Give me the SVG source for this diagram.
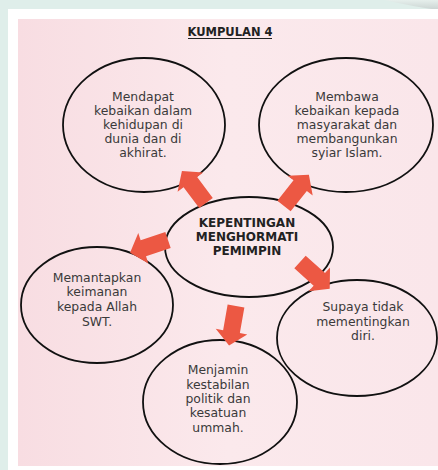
<svg xmlns="http://www.w3.org/2000/svg" width="438" height="470" viewBox="0 0 438 470">
<defs>
<linearGradient id="pink" x1="0" y1="0" x2="1" y2="0">
<stop offset="0" stop-color="#f8dde2"/>
<stop offset="0.5" stop-color="#fbe9ec"/>
<stop offset="1" stop-color="#fae6ea"/>
</linearGradient>
<linearGradient id="curl" x1="0" y1="0" x2="0" y2="1">
<stop offset="0" stop-color="#e6efec"/>
<stop offset="1" stop-color="#c9d3d1"/>
</linearGradient>
<path id="arr" d="M0,-8.5 L26,-8.5 L26,-16 L40,0 L26,16 L26,8.5 L0,8.5 Z"/>
</defs>
<style>
.node ellipse{fill:none;stroke:#111;stroke-width:1.8}
.t{font-family:"DejaVu Sans","Liberation Sans",sans-serif;font-size:12.4px;fill:#3a3a3a;text-anchor:middle}
.b{font-family:"DejaVu Sans","Liberation Sans",sans-serif;font-size:12px;font-weight:bold;fill:#222;text-anchor:middle}
.arrow{fill:#ec5843}
</style>
<rect width="438" height="470" fill="#dfeeea"/>
<path d="M385,0 L438,0 L438,10 Q410,6 385,0 Z" fill="url(#curl)"/>
<rect x="8" y="9" width="430" height="461" fill="#ffffff"/>
<rect x="18" y="19" width="420" height="447" fill="url(#pink)"/>
<g id="title">
<text class="b" x="230" y="36" style="font-size:11.5px">KUMPULAN 4</text>
<line x1="188" y1="38.5" x2="272" y2="38.5" stroke="#222" stroke-width="1"/>
</g>
<g id="n1" class="node">
<ellipse cx="144" cy="125" rx="81" ry="67"/>
<text class="t" x="143" y="101">Mendapat</text>
<text class="t" x="143" y="115">kebaikan dalam</text>
<text class="t" x="143" y="129">kehidupan di</text>
<text class="t" x="143" y="143">dunia dan di</text>
<text class="t" x="143" y="157">akhirat.</text>
</g>
<g id="n2" class="node">
<ellipse cx="346" cy="125" rx="87" ry="67"/>
<text class="t" x="347" y="101">Membawa</text>
<text class="t" x="347" y="115">kebaikan kepada</text>
<text class="t" x="347" y="129">masyarakat dan</text>
<text class="t" x="347" y="143">membangunkan</text>
<text class="t" x="347" y="157">syiar Islam.</text>
</g>
<g id="center" class="node">
<ellipse cx="249" cy="247" rx="84" ry="50"/>
<text class="b" x="247" y="227">KEPENTINGAN</text>
<text class="b" x="247" y="241">MENGHORMATI</text>
<text class="b" x="247" y="255">PEMIMPIN</text>
</g>
<g id="n3" class="node">
<ellipse cx="97" cy="305" rx="76" ry="58"/>
<text class="t" x="97" y="282">Memantapkan</text>
<text class="t" x="97" y="296">keimanan</text>
<text class="t" x="97" y="311">kepada Allah</text>
<text class="t" x="97" y="326">SWT.</text>
</g>
<g id="n4" class="node">
<ellipse cx="357" cy="338" rx="80" ry="58"/>
<text class="t" x="363" y="311">Supaya tidak</text>
<text class="t" x="363" y="326">mementingkan</text>
<text class="t" x="363" y="340">diri.</text>
</g>
<g id="n5" class="node">
<ellipse cx="220" cy="402" rx="77" ry="62"/>
<text class="t" x="218" y="374">Menjamin</text>
<text class="t" x="218" y="389">kestabilan</text>
<text class="t" x="218" y="403">politik dan</text>
<text class="t" x="218" y="417">kesatuan</text>
<text class="t" x="218" y="432">ummah.</text>
</g>
<g id="connectors" class="arrow">
<use href="#arr" transform="translate(206,203) rotate(-127)"/>
<use href="#arr" transform="translate(284,206) rotate(-51.5)"/>
<use href="#arr" transform="translate(168,240) rotate(161.6)"/>
<use href="#arr" transform="translate(300,262) rotate(42)"/>
<use href="#arr" transform="translate(236,306) rotate(100)"/>
</g>
</svg>
